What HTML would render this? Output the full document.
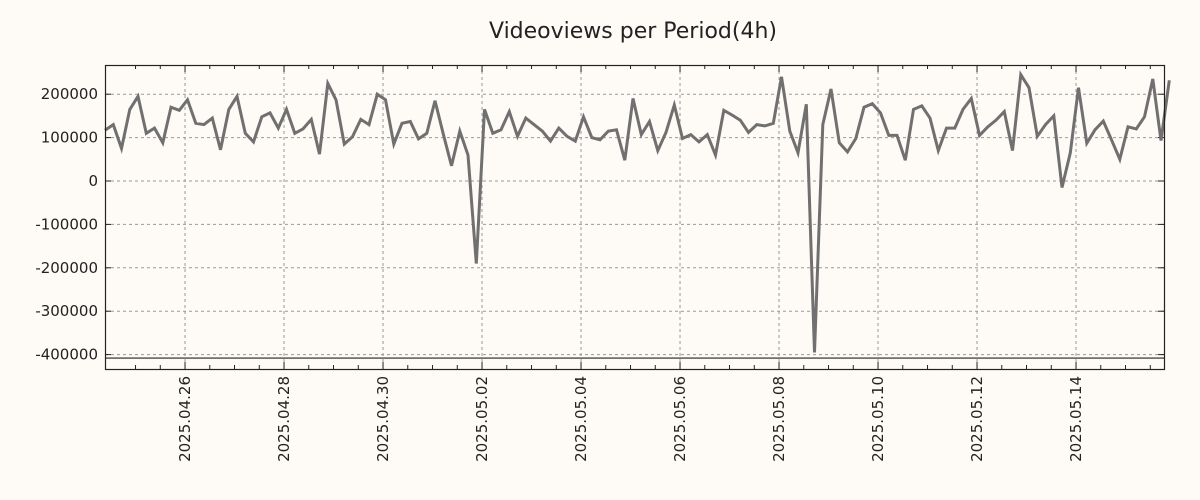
<!DOCTYPE html>
<html><head><meta charset="utf-8"><style>
body{margin:0;background:#fefaf6;}
svg{display:block;font-family:"DejaVu Sans","Liberation Sans",sans-serif;}
</style></head><body>
<svg id="chart" width="1200" height="500">
<rect x="0" y="0" width="1200" height="500" fill="#fefaf6"/>
<text x="633" y="38" text-anchor="middle" font-size="22" fill="#222">Videoviews per Period(4h)</text>
<g id="grid"></g><g id="axes"></g><g id="series"></g>
<rect x="105.5" y="65.5" width="1059" height="304" fill="none" stroke="#222" stroke-width="1.2"/>
</svg>
<script>
const values=[117000,130000,75000,165000,195000,110000,122000,88000,170000,163000,187000,133000,130000,145000,72000,165000,195000,110000,90000,148000,157000,122000,165000,110000,120000,142000,62000,225000,187000,85000,102000,142000,130000,200000,187000,85000,133000,137000,97000,110000,185000,108000,35000,115000,60000,-190000,165000,110000,118000,160000,103000,145000,130000,115000,92000,122000,103000,92000,148000,100000,95000,115000,118000,48000,190000,107000,137000,70000,112000,175000,98000,107000,90000,107000,60000,163000,152000,140000,112000,130000,127000,133000,240000,115000,65000,177000,-395000,130000,212000,88000,67000,98000,170000,178000,157000,105000,105000,48000,165000,173000,145000,70000,122000,122000,165000,190000,105000,125000,140000,160000,70000,245000,215000,103000,130000,150000,-15000,65000,215000,87000,118000,138000,95000,50000,125000,120000,148000,235000,93000,232000];
const yTicks=[200000,100000,0,-100000,-200000,-300000,-400000];
const dateLabels=["2025.04.26","2025.04.28","2025.04.30","2025.05.02","2025.05.04","2025.05.06","2025.05.08","2025.05.10","2025.05.12","2025.05.14"];
const firstDateIndex=9.7;   // index position of first labelled date
const pointsPerDay=6;
const baselineValue=-408000;
const NS="http://www.w3.org/2000/svg";
const X0=105,X1=1164,Y0=65,Y1=369;
const pxPerDay=49.5;
const xs=i=>X0+i*(pxPerDay/pointsPerDay);
const ys=v=>181-v*0.000434;
function mk(tag,attrs,parent){const e=document.createElementNS(NS,tag);for(const k in attrs)e.setAttribute(k,attrs[k]);parent.appendChild(e);return e;}
const grid=document.getElementById('grid'),axes=document.getElementById('axes'),series=document.getElementById('series');
yTicks.forEach(v=>{const y=ys(v);
 const g=mk('line',{x1:X0,x2:X1,y1:y,y2:y,stroke:'#999','stroke-width':1,'stroke-dasharray':'3,3'},grid);
 
 
 mk('line',{x1:X0,x2:X0+6,y1:y,y2:y,stroke:'#222'},axes);
 mk('line',{x1:X1-6,x2:X1,y1:y,y2:y,stroke:'#222'},axes);
 const t=mk('text',{x:X0-7,y:y+5,'text-anchor':'end','font-size':15,fill:'#222'},axes);
 t.textContent=v;
 
 
});
for(let k=-2;k<40;k++){const x=xs(firstDateIndex+k*3);if(x<X0||x>X1)continue;
 const major=k%4===0;const h=major?7:4;
 mk('line',{x1:x,x2:x,y1:Y1,y2:Y1-h,stroke:'#222'},axes);
 mk('line',{x1:x,x2:x,y1:Y0,y2:Y0+h,stroke:'#222'},axes);}
dateLabels.forEach((d,k)=>{const x=xs(firstDateIndex+k*2*pointsPerDay);
 const g=mk('line',{x1:x,x2:x,y1:Y0,y2:Y1,stroke:'#999','stroke-width':1,'stroke-dasharray':'3,3'},grid);
 
 
 const t=mk('text',{x:x+5,y:376,'text-anchor':'end','font-size':15,fill:'#222',transform:`rotate(-90 ${x+5} 376)`},axes);
 t.setAttribute('x',x+5);t.setAttribute('y',376);
 t.setAttribute('transform',`rotate(-90 ${x} 376) translate(0 5)`);
 t.setAttribute('x',x);
 t.textContent=d;
 
 
});
const bl=mk('line',{x1:X0,x2:X1,y1:ys(baselineValue),y2:ys(baselineValue),stroke:'#222','stroke-width':1.2},series);


const p=mk('polyline',{points:values.map((v,i)=>xs(i).toFixed(1)+','+ys(v).toFixed(1)).join(' '),fill:'none',stroke:'#707070','stroke-width':3,'stroke-linejoin':'miter'},series);


</script>
</body></html>
